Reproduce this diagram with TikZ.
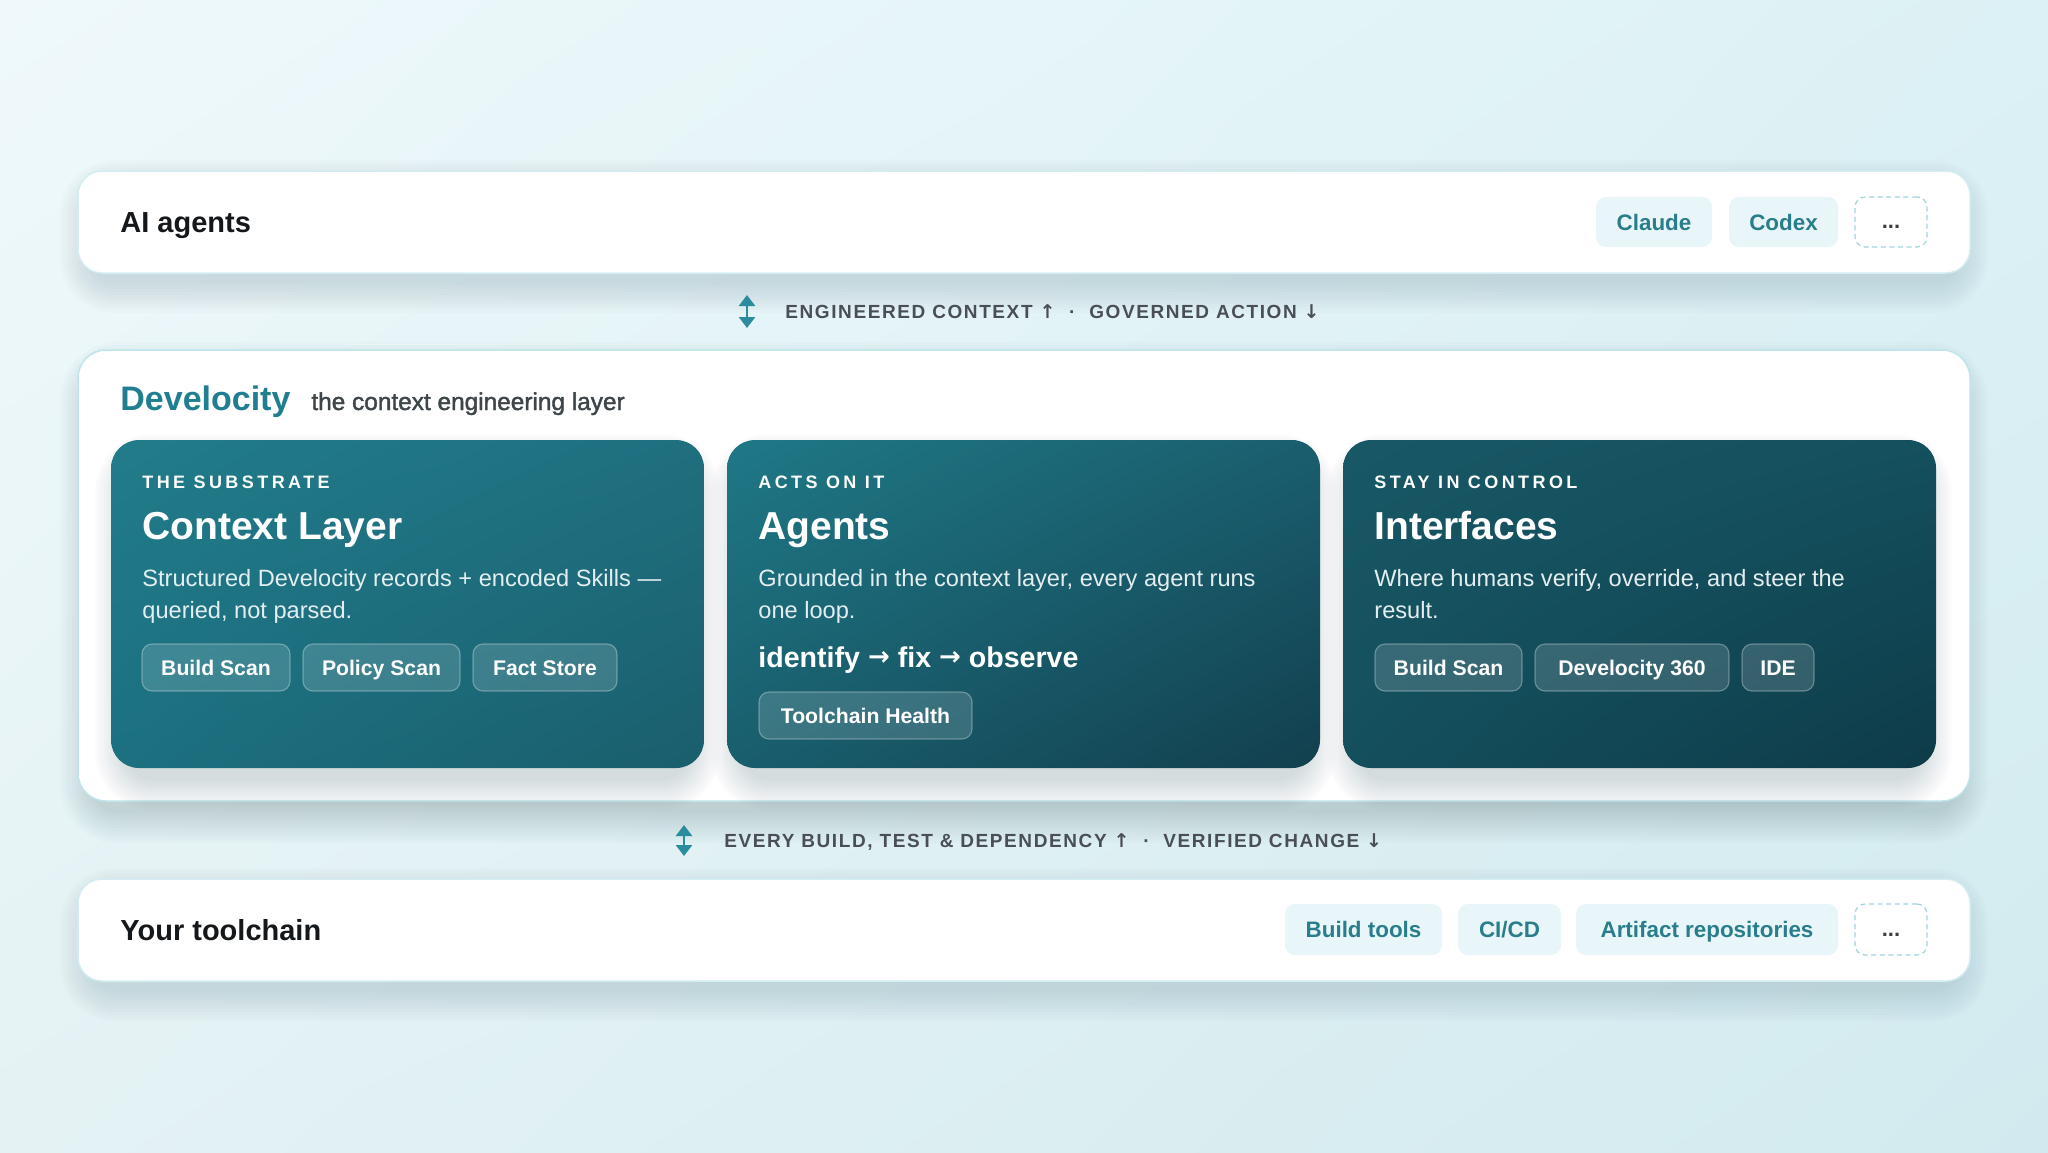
\documentclass[tikz,border=0pt]{standalone}
\usepackage{fontspec}
\setmainfont{Liberation Sans}
\newfontfamily\arrowfont{DejaVu Sans}
\usetikzlibrary{arrows.meta,shadings}
\definecolor{bgUL}{HTML}{EFF9FB}
\definecolor{bgUR}{HTML}{DCF1F5}
\definecolor{bgLL}{HTML}{E4F2F4}
\definecolor{bgLR}{HTML}{D2EAEF}
\definecolor{panelB}{HTML}{D3EDF2}
\definecolor{midB}{HTML}{BFE4EB}
\definecolor{chipF}{HTML}{E8F6F9}
\definecolor{chipT}{HTML}{2A7E8C}
\definecolor{dashB}{HTML}{9FD3DC}
\definecolor{dotT}{HTML}{3A3F44}
\definecolor{titleC}{HTML}{15181A}
\definecolor{devC}{HTML}{1F7F90}
\definecolor{subC}{HTML}{3E4549}
\definecolor{rowC}{HTML}{4A4F55}
\definecolor{iconC}{HTML}{2A8C9C}
\definecolor{descC}{HTML}{E4EEF0}
\definecolor{shadowC}{HTML}{1E3A44}
\definecolor{cAul}{HTML}{217C8A}
\definecolor{cAur}{HTML}{1F6F7F}
\definecolor{cAll}{HTML}{1C7080}
\definecolor{cAlr}{HTML}{1A5E6D}
\definecolor{cBul}{HTML}{1F7886}
\definecolor{cBur}{HTML}{1A5E6E}
\definecolor{cBll}{HTML}{195E6D}
\definecolor{cBlr}{HTML}{123F4E}
\definecolor{cCul}{HTML}{185866}
\definecolor{cCur}{HTML}{14505E}
\definecolor{cCll}{HTML}{144F5D}
\definecolor{cClr}{HTML}{0E3B48}
% soft shadow: x1,y1,x2,y2 (px), corner radius (pt), layer opacity, y offset (px)
\newcommand{\softshadow}[7]{%
  \foreach \i in {0,3,...,30}{%
    \pgfmathsetmacro{\rr}{#5+\i*0.5}%
    \fill[shadowC, opacity=#6, rounded corners=\rr pt] (#1-\i,#2-\i+#7) rectangle (#3+\i,#4+\i+#7);
  }}
\tikzset{
  panel/.style={draw=panelB, line width=0.75pt, fill=white, rounded corners=12pt, inner sep=0pt},
  card/.style={rounded corners=14pt, inner sep=0pt, minimum width=296.5pt, minimum height=164pt},
  lchip/.style={rounded corners=5pt, fill=chipF, text=chipT, font=\fontsize{11.2}{13}\selectfont\bfseries,
    minimum height=25pt, inner sep=0pt, text height=8pt, text depth=0pt},
  dchip/.style={rounded corners=5pt, fill=white, draw=dashB, dash pattern=on 2.5pt off 1.8pt, line width=0.6pt,
    text=dotT, font=\fontsize{11}{13}\selectfont\bfseries, minimum height=25pt, minimum width=36pt,
    inner sep=0pt, text height=6.5pt, text depth=0pt},
  cchip/.style={rounded corners=5pt, fill=white, fill opacity=0.15, draw=white, draw opacity=0.30,
    line width=0.6pt, text=white, text opacity=1, font=\fontsize{10.6}{12}\selectfont\bfseries,
    minimum height=23.5pt, inner sep=0pt, text height=7.6pt, text depth=0pt},
  txt/.style={anchor=base west, inner sep=0pt},
  bigtitle/.style={txt, text=titleC, font=\fontsize{14.5}{17}\selectfont\bfseries},
  rowlabel/.style={txt, text=rowC, font=\fontsize{9.5}{11}\selectfont\bfseries\addfontfeature{LetterSpace=8.4}},
  cardlabel/.style={txt, text=white, font=\fontsize{9}{11}\selectfont\bfseries\addfontfeature{LetterSpace=19}},
  cardtitle/.style={txt, text=white, font=\fontsize{19.5}{23}\selectfont\bfseries},
  desc/.style={txt, text=descC, font=\fontsize{11.8}{14}\selectfont},
  updown/.style={iconC, line width=1.3pt, {Triangle[width=8pt,length=5.5pt]}-{Triangle[width=8pt,length=5.5pt]}}
}
\newcommand{\uarr}{{\arrowfont\bfseries ↑}}
\newcommand{\darr}{{\arrowfont\bfseries ↓}}
\newcommand{\rarr}{\raisebox{0.8pt}{\arrowfont\bfseries\fontsize{13}{15}\selectfont →}}
\begin{document}
\begin{tikzpicture}[x=0.5pt,y=-0.5pt]
\useasboundingbox (0,0) rectangle (2048,1152);
\shade[upper left=bgUL, upper right=bgUR, lower left=bgLL, lower right=bgLR] (0,0) rectangle (2048,1152);

% shadows
\softshadow{90}{180}{1958}{273}{12}{0.012}{10}
\softshadow{90}{360}{1958}{801}{14}{0.014}{12}
\softshadow{90}{888}{1958}{981}{12}{0.012}{10}

% ---------- top panel ----------
\node[panel, minimum width=946pt, minimum height=51pt] (top) at (1024,222) {};
\node[bigtitle] (ai) at (120,232.5) {AI agents};
\node[lchip, minimum width=58pt] (claude) at (1654,222) {Claude};
\node[lchip, minimum width=54.5pt] (codex) at (1783.5,222) {Codex};
\node[dchip] (tmore) at (1891,222) {...};

% ---------- row label 1 ----------
\coordinate (i1t) at (747,295);
\coordinate (i1b) at (747,328);
\draw[updown] (i1t) -- (i1b);
\node[rowlabel] (row1) at (785,318.5) {ENGINEERED CONTEXT \uarr\ \ · \ GOVERNED ACTION \darr};

% ---------- middle panel ----------
\node[panel, draw=midB, rounded corners=14pt, minimum width=946pt, minimum height=225.5pt] (mid) at (1024,575.5) {};
\node[txt, text=devC, font=\fontsize{17}{20}\selectfont\bfseries] (dev) at (120,410) {Develocity};
\node[txt, text=subC, font=\fontsize{12.2}{15}\selectfont\addfontfeature{FakeBold=1.6}] (sub) at (311,410) {the context engineering layer};

% card shadows
\softshadow{125}{452}{690}{768}{14}{0.016}{12}
\softshadow{741}{452}{1306}{768}{14}{0.016}{12}
\softshadow{1357}{452}{1922}{768}{14}{0.016}{12}

% cards
\node[card, shade, upper left=cAul, upper right=cAur, lower left=cAll, lower right=cAlr] (c1) at (407.5,604) {};
\node[card, shade, upper left=cBul, upper right=cBur, lower left=cBll, lower right=cBlr] (c2) at (1023.5,604) {};
\node[card, shade, upper left=cCul, upper right=cCur, lower left=cCll, lower right=cClr] (c3) at (1639.5,604) {};

% card 1
\node[cardlabel] (l1) at (142,488) {THE SUBSTRATE};
\node[cardtitle] (t1) at (142,539) {Context Layer};
\node[desc] (d1a) at (142,586) {Structured Develocity records + encoded Skills —};
\node[desc] (d1b) at (142,618) {queried, not parsed.};
\node[cchip, minimum width=74pt] (bs1) at (216,667.5) {Build Scan};
\node[cchip, minimum width=78.5pt] (ps1) at (381.5,667.5) {Policy Scan};
\node[cchip, minimum width=72pt] (fs1) at (545,667.5) {Fact Store};

% card 2
\node[cardlabel] (l2) at (758,488) {ACTS ON IT};
\node[cardtitle] (t2) at (758,539) {Agents};
\node[desc] (d2a) at (758,586) {Grounded in the context layer, every agent runs};
\node[desc] (d2b) at (758,618) {one loop.};
\node[txt, text=white, font=\fontsize{14.3}{17}\selectfont\bfseries] (loop) at (758,667) {identify \rarr\ fix \rarr\ observe};
\node[cchip, minimum width=106.5pt] (th2) at (865.5,715.5) {Toolchain Health};

% card 3
\node[cardlabel] (l3) at (1374,488) {STAY IN CONTROL};
\node[cardtitle] (t3) at (1374,539) {Interfaces};
\node[desc] (d3a) at (1374,586) {Where humans verify, override, and steer the};
\node[desc] (d3b) at (1374,618) {result.};
\node[cchip, minimum width=73.5pt] (bs3) at (1448.5,667.5) {Build Scan};
\node[cchip, minimum width=97pt] (d360) at (1632,667.5) {Develocity 360};
\node[cchip, minimum width=36pt] (ide) at (1778,667.5) {IDE};

% ---------- row label 2 ----------
\coordinate (i2t) at (684,825);
\coordinate (i2b) at (684,856);
\draw[updown] (i2t) -- (i2b);
\node[rowlabel] (row2) at (724,847) {EVERY BUILD, TEST \& DEPENDENCY \uarr\ \ · \ VERIFIED CHANGE \darr};

% ---------- bottom panel ----------
\node[panel, minimum width=946pt, minimum height=51pt] (bot) at (1024,930) {};
\node[bigtitle] (tc) at (120,940) {Your toolchain};
\node[lchip, minimum width=78.5pt, minimum height=25.5pt] (bt) at (1363.5,929.5) {Build tools};
\node[lchip, minimum width=51.5pt, minimum height=25.5pt] (cicd) at (1509.5,929.5) {CI/CD};
\node[lchip, minimum width=131pt, minimum height=25.5pt] (art) at (1707,929.5) {Artifact repositories};
\node[dchip, minimum height=25.5pt] (bmore) at (1891,929.5) {...};
\end{tikzpicture}
\end{document}
